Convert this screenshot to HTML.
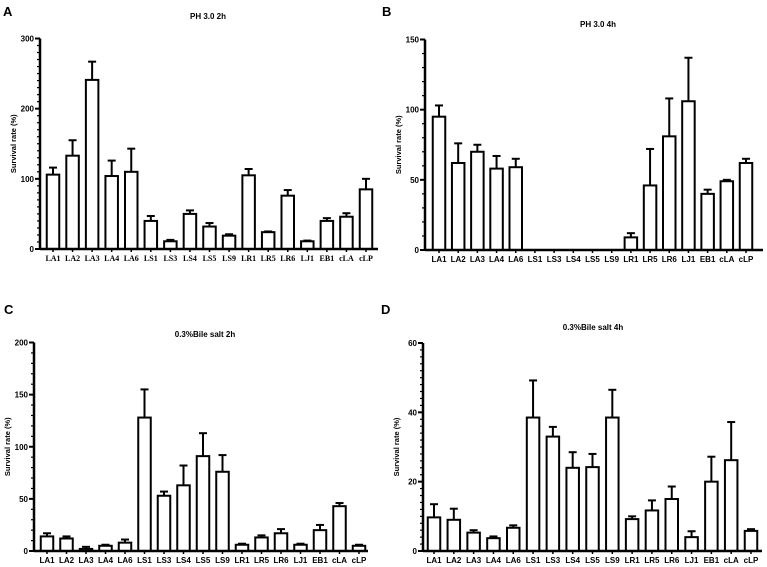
<!DOCTYPE html>
<html><head><meta charset="utf-8"><style>
html,body{margin:0;padding:0;background:#fff;width:767px;height:567px;overflow:hidden}
svg{display:block}
text{font-family:"Liberation Sans",sans-serif;font-weight:bold;fill:#000}
</style></head><body>
<svg id="fig" width="767" height="567" viewBox="0 0 767 567"></svg>
<script>
const categories=["LA1","LA2","LA3","LA4","LA6","LS1","LS3","LS4","LS5","LS9","LR1","LR5","LR6","LJ1","EB1","cLA","cLP"];
const valsA=[106,133,241,104,110,40,11,50,32,19,105,24,76,11,40,46,85];
const errA=[116,155,267,126,143,47,13,55,37,21,114,25,84,12,44,51,100];
const valsB=[95,62,70,58,59,0,0,0,0,0,9,46,81,106,40,49,62];
const errB=[103,76,75,67,65,0,0,0,0,0,12,72,108,137,43,50,65];
const valsC=[14,12,2,5,8,128,53,63,91,76,6,13,17,6,20,43,5];
const errC=[17,14,4,6,11,155,57,82,113,92,7,15,21,7,25,46,6];
const valsD=[9.7,9,5.3,3.7,6.7,38.5,33,24,24.2,38.5,9.2,11.7,15,4,20,26.2,5.8];
const errD=[13.5,12.2,6,4.2,7.4,49.2,35.8,28.5,28,46.5,10,14.6,18.6,5.7,27.2,37.2,6.3];
const ticksA=[0,100,200,300],ticksB=[0,50,100,150],ticksC=[0,50,100,150,200],ticksD=[0,20,40,60];

const NS="http://www.w3.org/2000/svg";
const svg=document.getElementById('fig');
function mk(tag,attrs,parent){const e=document.createElementNS(NS,tag);for(const k in attrs)e.setAttribute(k,attrs[k]);parent.appendChild(e);return e;}

function panel(cfg){
  const g=mk('g',{},svg);
  
  
  const ymax=cfg.ticks[cfg.ticks.length-1];
  const y=v=>cfg.y0-(v/ymax)*(cfg.y0-cfg.yTop);
  const step=(cfg.xLast-cfg.xFirst)/(categories.length-1);
  const x=i=>cfg.xFirst+i*step;
  const bw=12.5;
  const L=mk('text',{x:cfg.lx,y:cfg.ly,'font-size':13},g);L.textContent=cfg.letter;
  
  
  const T=mk('text',{x:cfg.tx,y:cfg.ty,'font-size':8,'text-anchor':'middle'},g);T.textContent=cfg.title;
  
  
  const yt=mk('text',{x:0,y:0,'font-size':7.5,'text-anchor':'middle',transform:`translate(${cfg.ax-24},${(cfg.y0+cfg.yTop)/2}) rotate(-90)`},g);
  yt.textContent='Survival rate (%)';
  
  
  // bars
  categories.forEach((c,i)=>{
    const v=cfg.vals[i],e=cfg.errs[i];
    if(v>0){
      if(e>v){
        const el=mk('line',{x1:x(i),x2:x(i),y1:y(v),y2:y(e),stroke:'#000','stroke-width':2},g);
        
        
        const cap=mk('line',{x1:x(i)-4,x2:x(i)+4,y1:y(e),y2:y(e),stroke:'#000','stroke-width':2},g);
        
        
      }
      const r=mk('rect',{x:x(i)-bw/2,y:y(v),width:bw,height:cfg.y0-y(v),fill:'#fff',stroke:'#000','stroke-width':2},g);
      
      
    }
    const tl=mk('text',{x:x(i),y:cfg.y0+12,'font-size':8,'text-anchor':'middle'},g);
    if(cfg.serif)tl.setAttribute('style','font-family:"Liberation Serif",serif');
    tl.textContent=c;
    
    
    mk('line',{x1:x(i),x2:x(i),y1:cfg.y0,y2:cfg.y0+3,stroke:'#000','stroke-width':1.5},g);
  });
  // axes
  const ya=mk('line',{x1:cfg.ax,x2:cfg.ax,y1:cfg.yTop,y2:cfg.y0+1,stroke:'#000','stroke-width':2.5},g);
  
  
  const xa=mk('line',{x1:cfg.ax,x2:cfg.xEnd,y1:cfg.y0,y2:cfg.y0,stroke:'#000','stroke-width':2.5},g);
  
  
  const minor=cfg.ticks[1]/cfg.minorN;
  for(let v=0;v<=ymax+1e-9;v+=minor){
    mk('line',{x1:cfg.ax-3,x2:cfg.ax,y1:y(v),y2:y(v),stroke:'#000','stroke-width':1.2},g);
  }
  cfg.ticks.forEach(t=>{
    mk('line',{x1:cfg.ax-5,x2:cfg.ax,y1:y(t),y2:y(t),stroke:'#000','stroke-width':2},g);
    const tt=mk('text',{x:cfg.ax-6,y:y(t)+3,'font-size':8,'text-anchor':'end'},g);
    tt.textContent=t;
    
    
  });
}
panel({letter:'A',lx:3,ly:16,title:'PH 3.0  2h',tx:208,ty:19,ax:40,y0:249,yTop:38.5,xFirst:53,xLast:366,xEnd:378,vals:valsA,errs:errA,ticks:ticksA,minorN:10,serif:true});
panel({letter:'B',lx:382,ly:16,title:'PH 3.0  4h',tx:598,ty:27,ax:425,y0:250,yTop:39.5,xFirst:439,xLast:746,xEnd:763,vals:valsB,errs:errB,ticks:ticksB,minorN:5});
panel({letter:'C',lx:4,ly:314,title:'0.3%Bile salt 2h',tx:205,ty:337,ax:34,y0:551,yTop:342.5,xFirst:47,xLast:359,xEnd:368,vals:valsC,errs:errC,ticks:ticksC,minorN:5});
panel({letter:'D',lx:381,ly:314,title:'0.3%Bile salt 4h',tx:593,ty:330,ax:423,y0:551,yTop:343,xFirst:434,xLast:751,xEnd:762,vals:valsD,errs:errD,ticks:ticksD,minorN:10});
</script>
</body></html>
